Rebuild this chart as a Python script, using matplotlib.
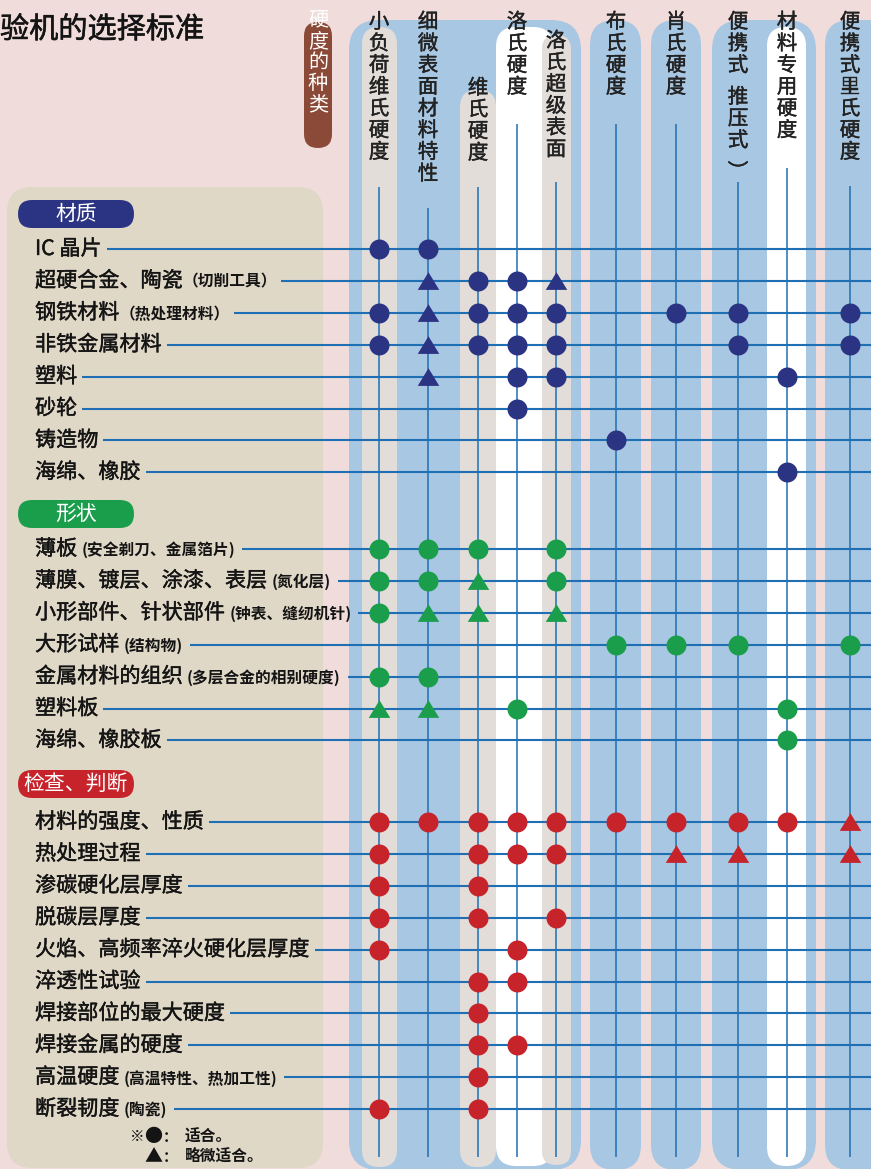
import matplotlib
matplotlib.use("Agg")
import matplotlib.pyplot as plt
import matplotlib.patheffects as pe
from matplotlib.patches import FancyBboxPatch

plt.rcParams['font.family'] = ['Noto Sans CJK SC', 'DejaVu Sans']

# ---- data ----
title = "验机的选择标准"
type_label = "硬度的种类"

columns = ["小负荷维氏硬度", "细微表面材料特性", "维氏硬度", "洛氏硬度", "洛氏超级表面",
           "布氏硬度", "肖氏硬度", "便携式 推压式 ︶", "材料专用硬度", "便携式里氏硬度"]

groups = ["材质", "形状", "检查、判断"]

material_rows = ["IC 晶片", "超硬合金、陶瓷", "钢铁材料", "非铁金属材料", "塑料", "砂轮", "铸造物", "海绵、橡胶"]
material_notes = ["", "（切削工具）", "（热处理材料）", "", "", "", "", ""]
# 2 = suitable (circle), 1 = slightly suitable (triangle), 0 = none
material_marks = [
    [2, 2, 0, 0, 0, 0, 0, 0, 0, 0],
    [0, 1, 2, 2, 1, 0, 0, 0, 0, 0],
    [2, 1, 2, 2, 2, 0, 2, 2, 0, 2],
    [2, 1, 2, 2, 2, 0, 0, 2, 0, 2],
    [0, 1, 0, 2, 2, 0, 0, 0, 2, 0],
    [0, 0, 0, 2, 0, 0, 0, 0, 0, 0],
    [0, 0, 0, 0, 0, 2, 0, 0, 0, 0],
    [0, 0, 0, 0, 0, 0, 0, 0, 2, 0],
]

shape_rows = ["薄板", "薄膜、镀层、涂漆、表层", "小形部件、针状部件", "大形试样", "金属材料的组织", "塑料板", "海绵、橡胶板"]
shape_notes = ["(安全剃刀、金属箔片)", "(氮化层)", "(钟表、缝纫机针)", "(结构物)", "(多层合金的相别硬度)", "", ""]
shape_marks = [
    [2, 2, 2, 0, 2, 0, 0, 0, 0, 0],
    [2, 2, 1, 0, 2, 0, 0, 0, 0, 0],
    [2, 1, 1, 0, 1, 0, 0, 0, 0, 0],
    [0, 0, 0, 0, 0, 2, 2, 2, 0, 2],
    [2, 2, 0, 0, 0, 0, 0, 0, 0, 0],
    [1, 1, 0, 2, 0, 0, 0, 0, 2, 0],
    [0, 0, 0, 0, 0, 0, 0, 0, 2, 0],
]

check_rows = ["材料的强度、性质", "热处理过程", "渗碳硬化层厚度", "脱碳层厚度", "火焰、高频率淬火硬化层厚度",
              "淬透性试验", "焊接部位的最大硬度", "焊接金属的硬度", "高温硬度", "断裂韧度"]
check_notes = ["", "", "", "", "", "", "", "", "(高温特性、热加工性)", "(陶瓷)"]
check_marks = [
    [2, 2, 2, 2, 2, 2, 2, 2, 2, 1],
    [2, 0, 2, 2, 2, 0, 1, 1, 0, 1],
    [2, 0, 2, 0, 0, 0, 0, 0, 0, 0],
    [2, 0, 2, 0, 2, 0, 0, 0, 0, 0],
    [2, 0, 0, 2, 0, 0, 0, 0, 0, 0],
    [0, 0, 2, 2, 0, 0, 0, 0, 0, 0],
    [0, 0, 2, 0, 0, 0, 0, 0, 0, 0],
    [0, 0, 2, 2, 0, 0, 0, 0, 0, 0],
    [0, 0, 2, 0, 0, 0, 0, 0, 0, 0],
    [2, 0, 2, 0, 0, 0, 0, 0, 0, 0],
]

legend_full = "适合。"
legend_part = "略微适合。"

# ---- layout / style ----
W, H = 871, 1169
col_x = [379, 428, 478, 517, 556, 616, 676, 738, 787, 850]
head_y0 = [22, 22, 88, 22, 41, 22, 22, 22, 22, 22]
vline_top = [187, 208, 187, 124, 182, 124, 124, 182, 168, 186]
group_y0 = [249, 549, 822]
pill_y = [214, 514, 784]
row_step = 31.9
group_colors = ["#2b3383", "#1b9e4b", "#c6232b"]
line_c = "#1e6fb4"
blue = "#a8c7e3"
grey = "#e2ddd8"
pink = "#f0dcdb"
beige = "#e0d8c7"
ink = "#141414"
thick = [pe.withStroke(linewidth=0.3, foreground=ink)]

fig = plt.figure(figsize=(W / 100, H / 100), dpi=100)
fig.patch.set_facecolor(pink)
ax = fig.add_axes([0, 0, 1, 1])
ax.set_xlim(0, W)
ax.set_ylim(H, 0)
ax.axis('off')


def rbox(x0, x1, y0, y1, r, color, z):
    p = FancyBboxPatch((x0, y0), x1 - x0, y1 - y0,
                       boxstyle=f"round,pad=0,rounding_size={r}",
                       fc=color, ec='none', zorder=z)
    ax.add_patch(p)


# left beige panel
rbox(7, 323, 187, 1168, 25, beige, 1)

# blue column panels
for x0, x1, r in [(349, 581, 30), (590, 641, 25), (651, 701, 25), (712, 816, 30), (825, 910, 25)]:
    rbox(x0, x1, 20, 1170, r, blue, 1)
# inner strips
rbox(362, 397, 27, 1167, 17, grey, 2)
rbox(460, 496, 90, 1167, 17, grey, 2)
rbox(496, 553, 27, 1166, 20, "white", 2)
rbox(542, 571, 35, 1165, 14, grey, 3)
rbox(767, 806, 27, 1166, 19, "white", 2)

# "hardness type" pill
rbox(304, 332, 22, 148, 14, "#8b4a37", 2)
for i, ch in enumerate(type_label):
    ax.text(318, 20 + i * 21.3, ch, fontsize=14.5, color="white", ha='center', va='center', zorder=5)

# title
ax.text(0, 30, title, fontsize=21, color=ink, ha='left', va='center', zorder=5,
        path_effects=[pe.withStroke(linewidth=0.4, foreground=ink)])

# column headers (vertical text) and vertical lines
for x, name, y0, top in zip(col_x, columns, head_y0, vline_top):
    y = y0
    for ch in name:
        if ch == " ":
            y += 10
            continue
        ax.text(x, y, ch, fontsize=14.8, color="#222222", ha='center', va='center', zorder=5,
                path_effects=[pe.withStroke(linewidth=0.3, foreground="#222222")])
        y += 21.7
    ax.plot([x, x], [top, 1157], color=line_c, lw=1.1, zorder=4, solid_capstyle='butt')

renderer = fig.canvas.get_renderer()
inv = ax.transData.inverted()


def right_edge(t):
    bb = t.get_window_extent(renderer=renderer)
    return inv.transform((bb.x1, bb.y0))[0]


tri = [(-1, -0.78), (1, -0.78), (0, 0.86)]


def draw_group(rows, notes, marks, y0, color):
    for i, (name, note, mk) in enumerate(zip(rows, notes, marks)):
        y = y0 + i * row_step
        t = ax.text(35, y, name, fontsize=15.2, color=ink, ha='left', va='center', zorder=5,
                    path_effects=thick)
        end = right_edge(t)
        gap = 5
        if note:
            half = not note.startswith("（")
            t2 = ax.text(end + (4 if half else 0), y + 1, note, fontsize=11.3, weight='bold', color=ink,
                         ha='left', va='center', zorder=5)
            end = right_edge(t2)
            gap = 7 if half else 4
        ax.plot([end + gap, W], [y, y], color=line_c, lw=1.5, zorder=4, solid_capstyle='butt')
        for x, m in zip(col_x, mk):
            if m == 2:
                ax.plot(x, y, marker='o', ms=14.4, color=color, mec='none', zorder=6)
            elif m == 1:
                ax.plot(x, y, marker=tri, ms=15.5, color=color, mec='none', zorder=6)


all_rows = [(material_rows, material_notes, material_marks),
            (shape_rows, shape_notes, shape_marks),
            (check_rows, check_notes, check_marks)]

for g, (rows, notes, marks), y0, py, c in zip(groups, all_rows, group_y0, pill_y, group_colors):
    rbox(18, 134, py - 14, py + 14, 14, c, 3)
    ax.text(76, py, g, fontsize=15, color="white", ha='center', va='center', zorder=5)
    draw_group(rows, notes, marks, y0, c)

# legend
ax.text(137, 1137, "※", fontsize=10.5, color=ink, ha='center', va='center', zorder=5)
ax.text(153, 1137, "●", fontsize=13, color=ink, ha='center', va='center', zorder=5)
ax.text(170, 1137, "：", fontsize=10.5, weight='bold', color=ink, ha='center', va='center', zorder=5)
ax.text(185, 1137, legend_full, fontsize=11.3, weight='bold', color=ink, ha='left', va='center', zorder=5)
ax.text(153, 1157, "▲", fontsize=13, color=ink, ha='center', va='center', zorder=5)
ax.text(170, 1157, "：", fontsize=10.5, weight='bold', color=ink, ha='center', va='center', zorder=5)
ax.text(185, 1157, legend_part, fontsize=11.3, weight='bold', color=ink, ha='left', va='center', zorder=5)

fig.savefig("out.png", dpi=100, facecolor=fig.get_facecolor())
